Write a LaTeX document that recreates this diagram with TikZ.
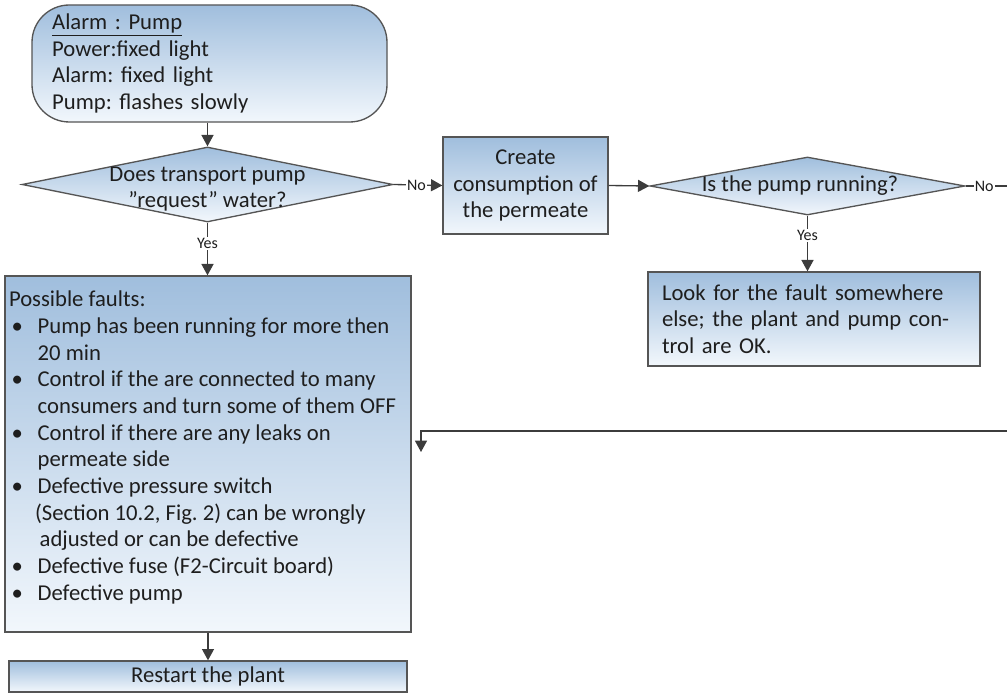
\documentclass[tikz,border=0pt]{standalone}
\usepackage{fontspec}
\setmainfont{Carlito}
\usetikzlibrary{shapes.geometric,arrows.meta}

\definecolor{topc}{RGB}{160,190,221}
\definecolor{botc}{RGB}{242,247,252}
\definecolor{edgec}{RGB}{85,85,85}
\definecolor{linec}{RGB}{60,60,60}
\definecolor{ink}{RGB}{30,30,30}

\newcommand{\bul}{\makebox[21.5pt][l]{\hspace{2pt}\textbullet}}

\begin{document}
\frenchspacing
\begin{tikzpicture}[x=0.75pt,y=-0.75pt,
  box/.style={draw=edgec, line width=1pt, top color=topc, bottom color=botc,
              inner sep=0pt, text=ink, font=\fontsize{17}{20}\selectfont},
  dia/.style={box, diamond, shape aspect=1},
  conn/.style={draw=linec, line width=1pt},
  arr/.style={conn, -{Triangle[length=8.5pt,width=9pt]}},
  lab/.style={fill=white, inner sep=1pt, text=ink, font=\fontsize{12}{14}\selectfont},
  txt/.style={text=ink, inner sep=0pt, font=\fontsize{17}{20}\selectfont}
]
\useasboundingbox (0,0) rectangle (1007,695);

% nodes
\node[box, rounded corners=28pt, minimum width=266.25pt, minimum height=87.75pt,
      text width=236pt, align=left] (top) at (209.5,63.5)
  {\underline{Alarm : Pump}\\Power:fixed light\\Alarm: fixed light\\Pump: flashes slowly\\[-4pt]};

\node[dia, minimum width=278.25pt, minimum height=56.25pt] (d1) at (207.5,184.5) {};
\node[txt, align=center] (d1t) at (207.5,189) {Does transport pump\\\textquotedblright request\textquotedblright\ water?};

\node[box, minimum width=123.75pt, minimum height=72.75pt, align=center] (create) at (525.5,185.5)
  {Create\\consumption of\\the permeate};

\node[dia, minimum width=236.25pt, minimum height=43.5pt] (d2) at (807.5,186) {};
\node[txt] (d2t) at (800,186) {Is the pump running?};

\node[box, minimum width=249pt, minimum height=70.5pt, text width=228pt, align=left] (look) at (814,319)
  {\parbox{217.5pt}{Look for the fault somewhere\linebreak else; the plant and pump con-\linebreak trol are OK.}};

\node[box, minimum width=304.5pt, minimum height=267pt] (big) at (208,454)
  {\parbox[c][267pt][t]{298.5pt}{\raggedright
   \rule{0pt}{23pt}Possible faults:\\
   \bul Pump has been running for more then\\
   \hspace*{21.5pt}20 min\\
   \bul Control if the are connected to many\\
   \hspace*{21.5pt}consumers and turn some of them OFF\\
   \bul Control if there are any leaks on\\
   \hspace*{21.5pt}permeate side\\
   \bul Defective pressure switch\\
   \hspace*{19.5pt}(Section 10.2, Fig. 2) can be wrongly\\
   \hspace*{23pt}adjusted or can be defective\\
   \bul Defective fuse (F2-Circuit board)\\
   \bul Defective pump}};

\node[box, minimum width=298.5pt, minimum height=23.25pt] (restart) at (208,676.5) {Restart the plant};

\coordinate (r1) at (1007,186);
\coordinate (r2) at (1007,431);
\coordinate (ret) at (421,452);

% connectors
\draw[arr] (d1.north |- top.south) -- (d1.north);
\draw[arr] (d1.south) -- node[lab, pos=0.4] {Yes} (d1.south |- big.north);
\draw[arr] (d1.east) -- node[lab, pos=0.47] {No} (create.west);
\draw[arr] (create.east) -- (d2.west);
\draw[arr] (d2.south) -- node[lab, pos=0.35] {Yes} (d2.south |- look.north);
\draw[conn] (d2.east) -- node[lab, pos=0.45] {No} (r1);
\draw[arr] (r2) -| (ret);
\draw[arr] (big.south) -- (restart.north);
\end{tikzpicture}
\end{document}
